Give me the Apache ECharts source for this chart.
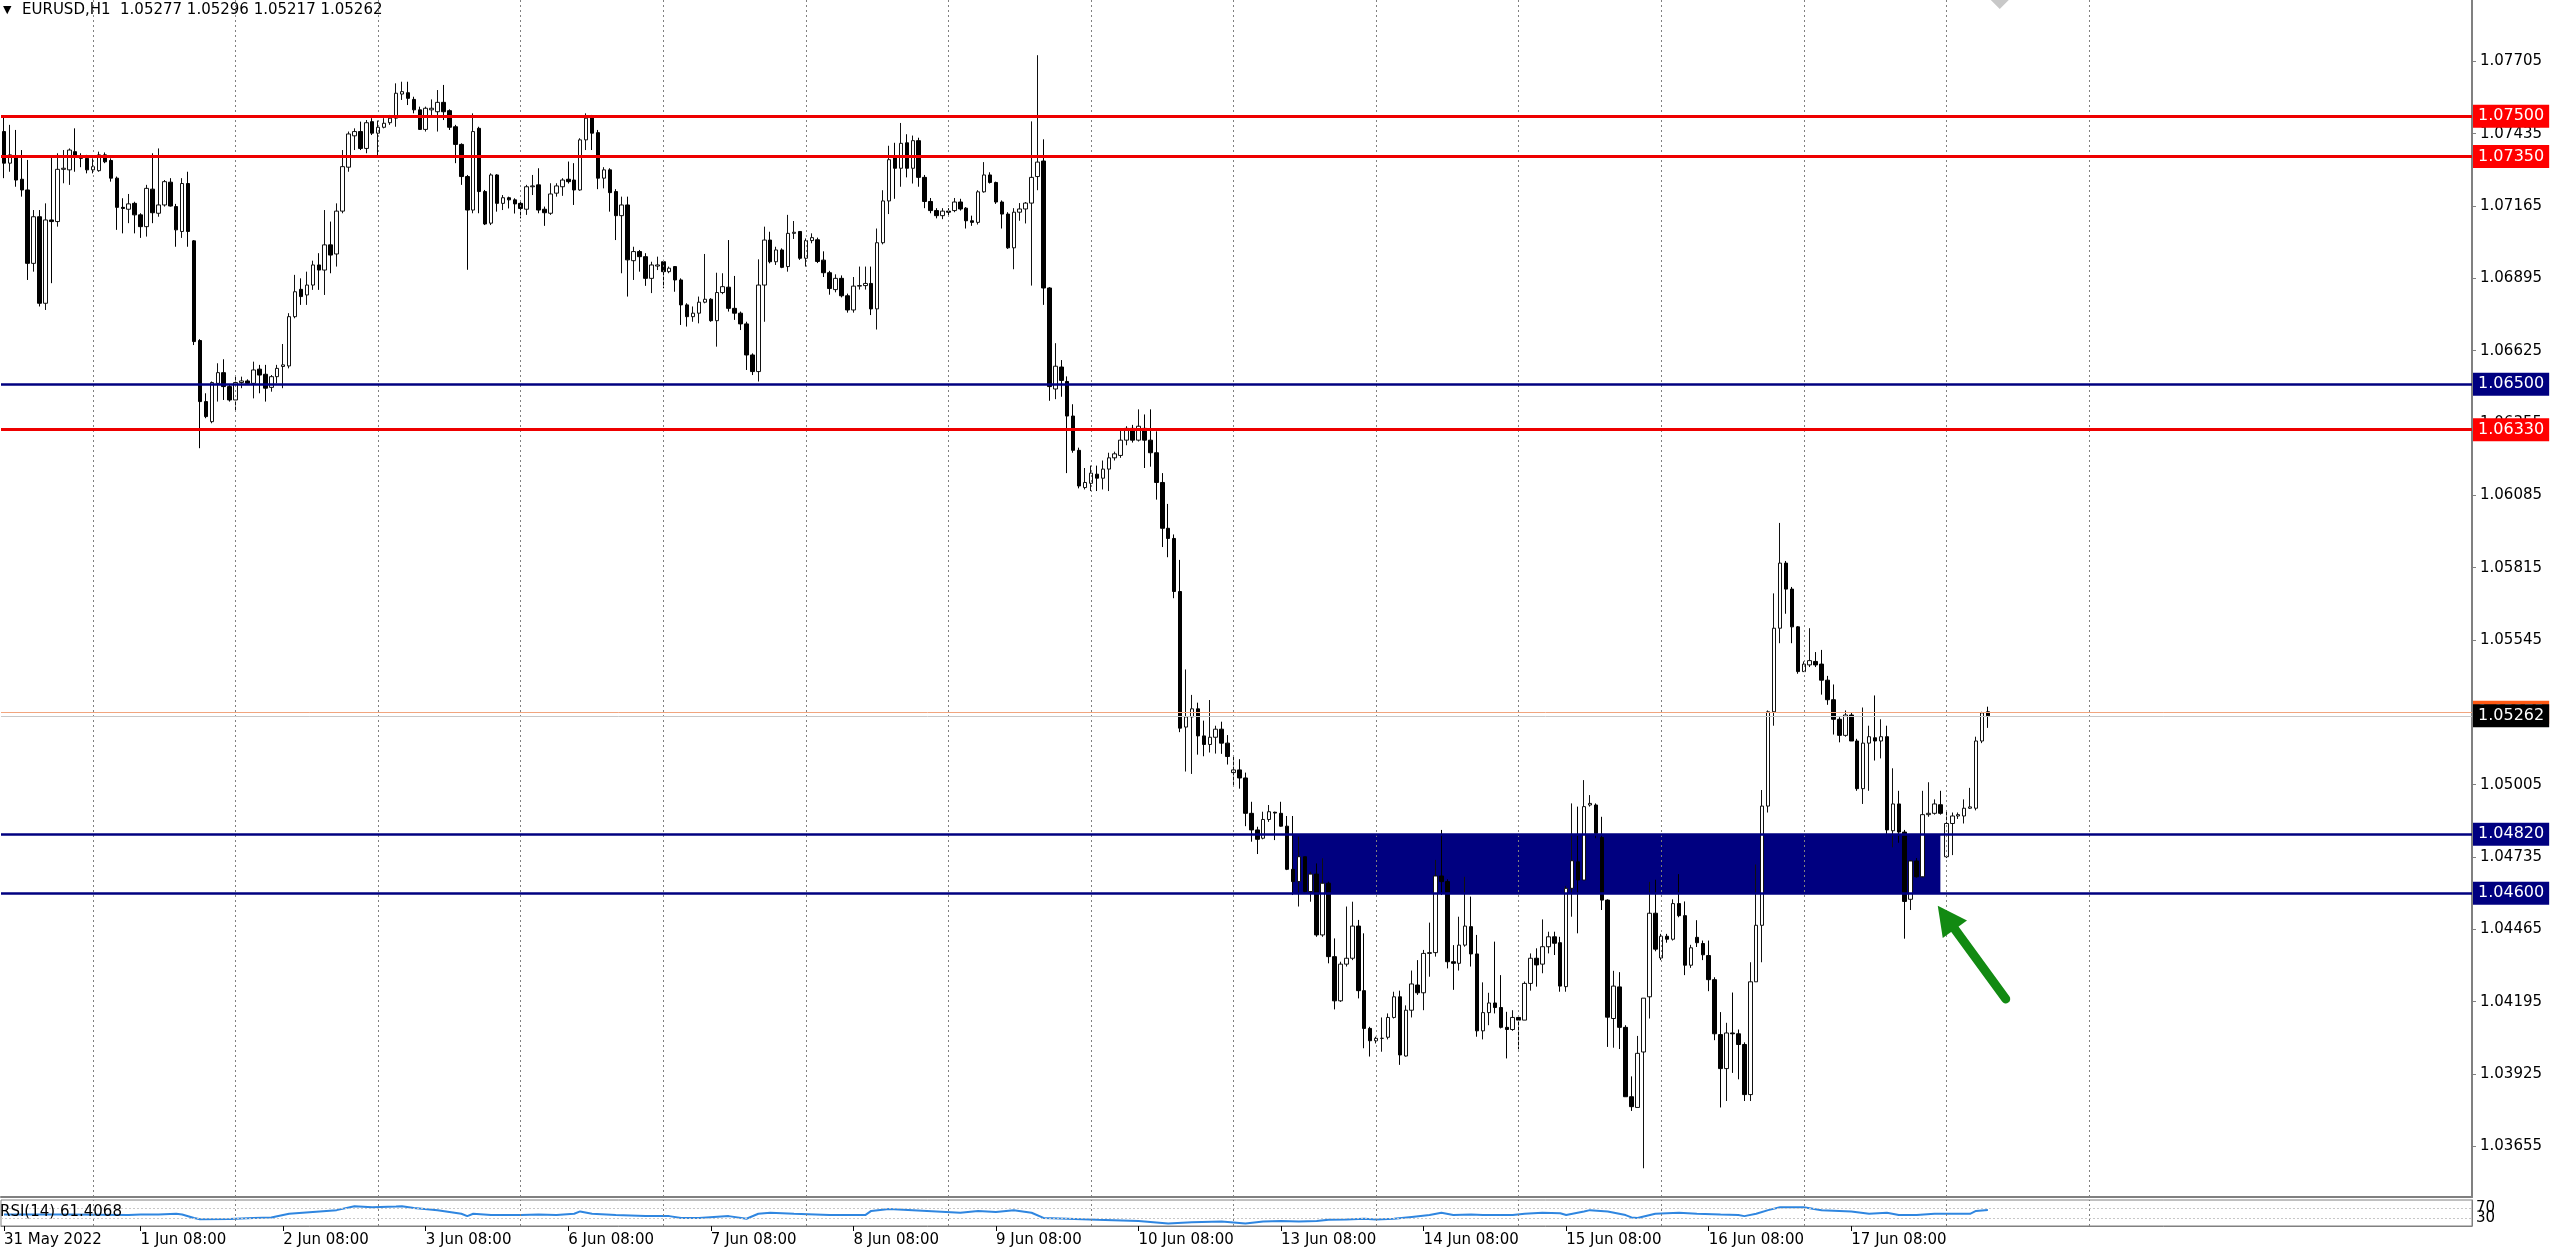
<!DOCTYPE html>
<html><head><meta charset="utf-8">
<script src="https://cdn.jsdelivr.net/npm/echarts@6/dist/echarts.min.js"></script>
<style>html,body{margin:0;padding:0;background:#fff;overflow:hidden}#c{width:2560px;height:1251px}</style>
</head><body><div id="c"></div>
<script>
// ---- EURUSD H1 candles, [open, close, low, high] ----
const may31 = [[1.07443,1.07325,1.07269,1.07499],[1.07325,1.07356,1.07293,1.07468],[1.07349,1.07262,1.07237,1.07449],[1.07265,1.07225,1.07200,1.07374],[1.07225,1.06951,1.06889,1.07337],[1.06951,1.07125,1.06920,1.07150],[1.07125,1.06802,1.06790,1.07150],[1.06802,1.07113,1.06777,1.07175],[1.07113,1.07107,1.06877,1.07349],[1.07107,1.07302,1.07088,1.07362],[1.07302,1.07306,1.07250,1.07374],[1.07300,1.07374,1.07244,1.07380],[1.07368,1.07349,1.07293,1.07455],[1.07350,1.07343,1.07310,1.07362],[1.07343,1.07300,1.07287,1.07356]];
const jun01 = [[1.07300,1.07312,1.07287,1.07343],[1.07297,1.07356,1.07293,1.07368],[1.07356,1.07330,1.07325,1.07365],[1.07335,1.07269,1.07256,1.07343],[1.07269,1.07160,1.07076,1.07275],[1.07160,1.07156,1.07063,1.07194],[1.07153,1.07173,1.07101,1.07210],[1.07175,1.07132,1.07063,1.07181],[1.07132,1.07088,1.07046,1.07138],[1.07088,1.07231,1.07051,1.07244],[1.07228,1.07140,1.07101,1.07362],[1.07138,1.07169,1.07125,1.07380],[1.07169,1.07256,1.07163,1.07262],[1.07254,1.07165,1.07163,1.07269],[1.07163,1.07076,1.07013,1.07173],[1.07070,1.07249,1.07046,1.07269],[1.07249,1.07070,1.07013,1.07293],[1.07035,1.06659,1.06646,1.07038],[1.06663,1.06435,1.06261,1.06668],[1.06435,1.06379,1.06373,1.06466],[1.06360,1.06506,1.06354,1.06510],[1.06503,1.06543,1.06435,1.06578],[1.06543,1.06491,1.06441,1.06593],[1.06491,1.06441,1.06435,1.06497]];
const jun02 = [[1.06441,1.06506,1.06398,1.06528],[1.06506,1.06512,1.06485,1.06528],[1.06512,1.06503,1.06497,1.06518],[1.06503,1.06553,1.06447,1.06584],[1.06556,1.06534,1.06466,1.06572],[1.06537,1.06485,1.06435,1.06572],[1.06488,1.06528,1.06472,1.06534],[1.06528,1.06559,1.06503,1.06572],[1.06566,1.06572,1.06485,1.06650],[1.06568,1.06752,1.06559,1.06765],[1.06752,1.06845,1.06746,1.06908],[1.06854,1.06827,1.06796,1.06895],[1.06833,1.06870,1.06796,1.06920],[1.06870,1.06945,1.06852,1.06961],[1.06945,1.06926,1.06852,1.06989],[1.06926,1.07020,1.06833,1.07150],[1.07020,1.06982,1.06914,1.07107],[1.06986,1.07146,1.06939,1.07175],[1.07146,1.07312,1.07138,1.07374],[1.07310,1.07434,1.07293,1.07443],[1.07427,1.07443,1.07374,1.07455],[1.07443,1.07380,1.07374,1.07480],[1.07380,1.07476,1.07362,1.07486],[1.07480,1.07437,1.07430,1.07493]];
const jun03 = [[1.07437,1.07459,1.07349,1.07484],[1.07459,1.07474,1.07455,1.07493],[1.07476,1.07493,1.07468,1.07505],[1.07493,1.07586,1.07461,1.07623],[1.07583,1.07592,1.07561,1.07629],[1.07588,1.07567,1.07542,1.07629],[1.07563,1.07524,1.07511,1.07573],[1.07524,1.07451,1.07449,1.07536],[1.07451,1.07530,1.07443,1.07536],[1.07524,1.07530,1.07499,1.07563],[1.07517,1.07552,1.07443,1.07598],[1.07552,1.07517,1.07486,1.07617],[1.07521,1.07459,1.07449,1.07526],[1.07461,1.07395,1.07325,1.07468],[1.07395,1.07275,1.07244,1.07399],[1.07275,1.07150,1.06927,1.07281],[1.07150,1.07443,1.07138,1.07511],[1.07455,1.07219,1.07138,1.07461],[1.07219,1.07098,1.07094,1.07225],[1.07101,1.07281,1.07094,1.07287],[1.07281,1.07175,1.07144,1.07284],[1.07175,1.07196,1.07150,1.07206],[1.07196,1.07188,1.07156,1.07200],[1.07188,1.07173,1.07137,1.07194]];
const jun06 = [[1.07175,1.07156,1.07119,1.07181],[1.07153,1.07237,1.07132,1.07244],[1.07237,1.07240,1.07206,1.07281],[1.07244,1.07150,1.07138,1.07306],[1.07153,1.07140,1.07091,1.07163],[1.07138,1.07210,1.07132,1.07250],[1.07213,1.07240,1.07200,1.07250],[1.07237,1.07262,1.07203,1.07269],[1.07265,1.07256,1.07249,1.07331],[1.07262,1.07225,1.07169,1.07325],[1.07225,1.07412,1.07222,1.07418],[1.07412,1.07493,1.07374,1.07511],[1.07495,1.07437,1.07374,1.07505],[1.07439,1.07269,1.07228,1.07449],[1.07269,1.07300,1.07231,1.07310],[1.07300,1.07215,1.07144,1.07306],[1.07219,1.07129,1.07038,1.07228],[1.07129,1.07169,1.06914,1.07200],[1.07169,1.06964,1.06827,1.07200],[1.06961,1.06995,1.06889,1.07013],[1.06995,1.06976,1.06920,1.07001],[1.06976,1.06895,1.06867,1.06989],[1.06895,1.06945,1.06840,1.06957],[1.06941,1.06945,1.06926,1.06976]];
const jun07 = [[1.06957,1.06920,1.06858,1.06964],[1.06920,1.06933,1.06914,1.06939],[1.06939,1.06889,1.06845,1.06941],[1.06889,1.06796,1.06721,1.06895],[1.06796,1.06752,1.06715,1.06802],[1.06752,1.06765,1.06733,1.06790],[1.06765,1.06806,1.06727,1.06827],[1.06806,1.06817,1.06802,1.06986],[1.06817,1.06737,1.06733,1.06821],[1.06737,1.06842,1.06640,1.06916],[1.06842,1.06864,1.06836,1.06914],[1.06862,1.06783,1.06771,1.07038],[1.06783,1.06765,1.06740,1.06904],[1.06765,1.06725,1.06702,1.06771],[1.06725,1.06609,1.06553,1.06733],[1.06609,1.06547,1.06534,1.06615],[1.06547,1.06870,1.06510,1.06966],[1.06870,1.07038,1.06733,1.07088],[1.07038,1.06957,1.06951,1.07069],[1.06957,1.07001,1.06945,1.07013],[1.07001,1.06936,1.06933,1.07007],[1.06939,1.07063,1.06920,1.07132],[1.07063,1.07067,1.07042,1.07109],[1.07070,1.06970,1.06964,1.07070]];
const jun08 = [[1.06970,1.07036,1.06939,1.07044],[1.07036,1.07047,1.07026,1.07063],[1.07039,1.06958,1.06952,1.07047],[1.06963,1.06916,1.06900,1.06996],[1.06916,1.06857,1.06834,1.06923],[1.06853,1.06895,1.06843,1.06910],[1.06895,1.06830,1.06824,1.06906],[1.06830,1.06777,1.06767,1.06838],[1.06777,1.06866,1.06767,1.06900],[1.06866,1.06868,1.06853,1.06939],[1.06868,1.06876,1.06853,1.06939],[1.06876,1.06781,1.06758,1.06939],[1.06781,1.07028,1.06704,1.07081],[1.07028,1.07184,1.07022,1.07224],[1.07184,1.07338,1.07135,1.07390],[1.07348,1.07306,1.07192,1.07401],[1.07306,1.07399,1.07237,1.07475],[1.07401,1.07306,1.07272,1.07433],[1.07306,1.07409,1.07249,1.07428],[1.07409,1.07272,1.07237,1.07420],[1.07272,1.07182,1.07157,1.07281],[1.07182,1.07148,1.07138,1.07195],[1.07148,1.07129,1.07119,1.07157],[1.07129,1.07146,1.07116,1.07157]];
const jun09 = [[1.07146,1.07142,1.07129,1.07157],[1.07148,1.07180,1.07142,1.07195],[1.07180,1.07154,1.07148,1.07192],[1.07157,1.07110,1.07081,1.07161],[1.07110,1.07104,1.07091,1.07129],[1.07104,1.07218,1.07096,1.07224],[1.07218,1.07281,1.07215,1.07329],[1.07281,1.07253,1.07249,1.07291],[1.07253,1.07180,1.07173,1.07256],[1.07180,1.07135,1.07081,1.07186],[1.07135,1.07009,1.07005,1.07142],[1.07009,1.07142,1.06929,1.07157],[1.07142,1.07154,1.07110,1.07176],[1.07154,1.07176,1.07100,1.07180],[1.07176,1.07272,1.06868,1.07481],[1.07275,1.07329,1.07224,1.07728],[1.07333,1.06859,1.06796,1.07414],[1.06859,1.06491,1.06438,1.06862],[1.06482,1.06567,1.06444,1.06653],[1.06564,1.06514,1.06453,1.06590],[1.06510,1.06381,1.06168,1.06529],[1.06381,1.06253,1.06244,1.06425],[1.06253,1.06120,1.06111,1.06263],[1.06114,1.06133,1.06107,1.06187]];
const jun10 = [[1.06130,1.06168,1.06101,1.06196],[1.06164,1.06149,1.06101,1.06196],[1.06149,1.06183,1.06107,1.06215],[1.06183,1.06225,1.06101,1.06244],[1.06225,1.06240,1.06215,1.06248],[1.06234,1.06291,1.06225,1.06329],[1.06291,1.06335,1.06272,1.06343],[1.06335,1.06291,1.06282,1.06348],[1.06291,1.06343,1.06286,1.06406],[1.06335,1.06291,1.06187,1.06387],[1.06291,1.06244,1.06192,1.06406],[1.06244,1.06133,1.06069,1.06324],[1.06133,1.05962,1.05892,1.06168],[1.05962,1.05924,1.05854,1.06053],[1.05924,1.05726,1.05701,1.05939],[1.05726,1.05216,1.05201,1.05844],[1.05220,1.05258,1.05054,1.05435],[1.05258,1.05288,1.05045,1.05340],[1.05288,1.05187,1.05117,1.05311],[1.05187,1.05155,1.05111,1.05244],[1.05155,1.05182,1.05125,1.05321],[1.05182,1.05212,1.05121,1.05225],[1.05212,1.05160,1.05120,1.05240],[1.05160,1.05110,1.05080,1.05190]];
const jun13 = [[1.05050,1.05060,1.05000,1.05110],[1.05060,1.05030,1.04990,1.05100],[1.05030,1.04898,1.04850,1.05050],[1.04898,1.04836,1.04792,1.04941],[1.04836,1.04801,1.04746,1.04848],[1.04805,1.04875,1.04801,1.04904],[1.04875,1.04904,1.04866,1.04929],[1.04902,1.04899,1.04798,1.04904],[1.04898,1.04850,1.04848,1.04941],[1.04850,1.04689,1.04686,1.04888],[1.04689,1.04643,1.04593,1.04888],[1.04643,1.04736,1.04550,1.04811],[1.04736,1.04606,1.04602,1.04736],[1.04606,1.04671,1.04568,1.04680],[1.04671,1.04444,1.04437,1.04711],[1.04444,1.04637,1.04437,1.04730],[1.04637,1.04363,1.04338,1.04643],[1.04363,1.04198,1.04166,1.04431],[1.04198,1.04335,1.04194,1.04344],[1.04335,1.04357,1.04326,1.04550],[1.04357,1.04477,1.04350,1.04568],[1.04477,1.04236,1.04207,1.04500],[1.04236,1.04095,1.04021,1.04450],[1.04095,1.04049,1.03990,1.04101]];
const jun14 = [[1.04049,1.04058,1.04039,1.04064],[1.04058,1.04058,1.04008,1.04136],[1.04062,1.04136,1.04054,1.04151],[1.04136,1.04213,1.04132,1.04232],[1.04213,1.03996,1.03959,1.04236],[1.03992,1.04163,1.03990,1.04181],[1.04163,1.04261,1.04136,1.04311],[1.04257,1.04228,1.04220,1.04350],[1.04228,1.04375,1.04163,1.04388],[1.04375,1.04378,1.04288,1.04490],[1.04378,1.04664,1.04363,1.04724],[1.04664,1.04643,1.04593,1.04836],[1.04643,1.04344,1.04319,1.04652],[1.04344,1.04338,1.04239,1.04406],[1.04338,1.04406,1.04311,1.04512],[1.04406,1.04477,1.04400,1.04661],[1.04475,1.04373,1.04326,1.04587],[1.04373,1.04086,1.04064,1.04444],[1.04086,1.04154,1.04054,1.04267],[1.04154,1.04190,1.04107,1.04228],[1.04190,1.04173,1.04151,1.04419],[1.04173,1.04099,1.04095,1.04294],[1.04099,1.04091,1.03983,1.04157],[1.04091,1.04136,1.04086,1.04163]];
const jun15 = [[1.04136,1.04126,1.04017,1.04136],[1.04126,1.04263,1.04126,1.04270],[1.04263,1.04357,1.04236,1.04375],[1.04357,1.04332,1.04251,1.04394],[1.04335,1.04400,1.04301,1.04502],[1.04400,1.04437,1.04375,1.04456],[1.04437,1.04413,1.04369,1.04456],[1.04415,1.04253,1.04232,1.04437],[1.04251,1.04618,1.04232,1.04627],[1.04618,1.04721,1.04512,1.04935],[1.04717,1.04649,1.04450,1.04923],[1.04649,1.04923,1.04649,1.05022],[1.04929,1.04935,1.04923,1.04966],[1.04929,1.04823,1.04805,1.04935],[1.04808,1.04574,1.04537,1.04885],[1.04574,1.04137,1.04026,1.04577],[1.04132,1.04253,1.04023,1.04310],[1.04250,1.04099,1.04018,1.04305],[1.04099,1.03840,1.03840,1.04107],[1.03840,1.03803,1.03787,1.03916],[1.03800,1.04002,1.03800,1.04067],[1.04007,1.04208,1.03573,1.04208],[1.04213,1.04525,1.04132,1.04642],[1.04525,1.04391,1.04383,1.04650]];
const jun16 = [[1.04358,1.04439,1.04350,1.04448],[1.04439,1.04428,1.04415,1.04448],[1.04428,1.04561,1.04423,1.04577],[1.04561,1.04516,1.04510,1.04671],[1.04516,1.04331,1.04294,1.04569],[1.04331,1.04396,1.04321,1.04407],[1.04435,1.04415,1.04399,1.04499],[1.04412,1.04370,1.04350,1.04423],[1.04367,1.04277,1.04234,1.04423],[1.04277,1.04075,1.04051,1.04286],[1.04072,1.03945,1.03800,1.04156],[1.03945,1.04078,1.03824,1.04116],[1.04078,1.04075,1.03929,1.04229],[1.04075,1.04035,1.03905,1.04091],[1.04035,1.03848,1.03824,1.04043],[1.03848,1.04269,1.03824,1.04342],[1.04269,1.04480,1.04269,1.04707],[1.04480,1.04925,1.04342,1.04985],[1.04925,1.05277,1.04901,1.05282],[1.05277,1.05589,1.05225,1.05719],[1.05589,1.05832,1.05533,1.05982],[1.05832,1.05735,1.05643,1.05840],[1.05735,1.05594,1.05533,1.05743],[1.05594,1.05427,1.05419,1.05597]];
const jun17 = [[1.05427,1.05455,1.05427,1.05465],[1.05452,1.05468,1.05444,1.05589],[1.05465,1.05452,1.05444,1.05500],[1.05455,1.05395,1.05341,1.05508],[1.05395,1.05322,1.05303,1.05411],[1.05322,1.05249,1.05192,1.05379],[1.05249,1.05189,1.05163,1.05257],[1.05189,1.05265,1.05184,1.05282],[1.05265,1.05168,1.05168,1.05273],[1.05168,1.04990,1.04982,1.05176],[1.04990,1.05160,1.04933,1.05293],[1.05160,1.05184,1.04982,1.05225],[1.05180,1.05168,1.05095,1.05338],[1.05168,1.05184,1.05103,1.05249],[1.05184,1.04836,1.04820,1.05225],[1.04833,1.04933,1.04771,1.05066],[1.04933,1.04828,1.04788,1.04982],[1.04828,1.04569,1.04430,1.04836],[1.04577,1.04720,1.04537,1.04723],[1.04720,1.04661,1.04658,1.04731],[1.04661,1.04893,1.04658,1.04982],[1.04893,1.04898,1.04885,1.05014],[1.04898,1.04933,1.04893,1.04950],[1.04930,1.04898,1.04893,1.04982]];
const jun20 = [[1.04736,1.04860,1.04731,1.04909],[1.04860,1.04888,1.04742,1.04901],[1.04888,1.04893,1.04877,1.04901],[1.04888,1.04917,1.04860,1.04950],[1.04917,1.04922,1.04914,1.04993],[1.04917,1.05168,1.04909,1.05184],[1.05168,1.05273,1.05160,1.05277],[1.05277,1.05262,1.05217,1.05296]];

// ---- RSI(14) readings: bar index and value ----
const rsiBars = [0,11,21,23,26,29,30,32,33,38,42,45,48,52,56,59,62,66,67,69,73,77,78,79,82,87,90,93,96,97,99,103,108,112,114,117,122,125,127,129,133,139,145,146,149,153,157,161,164,167,170,173,175,179,184,191,196,200,205,209,212,215,218,221,223,226,229,231,234,237,240,242,244,247,249,254,256,259,262,263,266,267,270,273,274,275,278,282,285,289,292,293,295,297,299,303,306,311,314,317,319,322,325,328,331,332,334];
const rsiValues = [44,44,42,44,44,47,44,31,26,27,31,33,47,54,61,76,72,75,76,69,61,47,38,47,42,42,44,42,47,56,47,42,38,38,31,31,38,28,47,51,47,42,42,58,65,61,56,51,58,54,61,51,31,28,24,19,10,14,17,10,17,19,17,19,24,25,28,25,28,35,42,51,42,44,42,42,47,51,49,42,56,61,56,42,33,31,47,51,47,44,42,38,47,61,72,72,61,56,47,51,42,42,47,47,47,58,61.4];

// ---- axis / annotations ----
const priceTicks = [1.07705,1.07435,1.07165,1.06895,1.06625,1.06355,1.06085,1.05815,1.05545,1.05275,1.05005,1.04735,1.04465,1.04195,1.03925,1.03655];
const rsiTicks = [0,30,70,100];
const rsiLevels = [30,70];
const redLevels = [1.07500,1.07350,1.06330];
const navyLevels = [1.06500,1.04820,1.04600];
const zonePrices = [1.04820,1.04600];
const zoneBars = [217,326];
const askPrice = 1.05275;
const bidPrice = 1.05262;
const arrowFrom = [337.2,1.04205];
const arrowTo = [326.6,1.04509];
const shiftMarkBar = 336;
const headerText = 'EURUSD,H1  1.05277 1.05296 1.05217 1.05262';
const rsiTitle = 'RSI(14) 61.4068';
const priceMin = 1.034657, priceMax = 1.079341;

// ---- build ----
const candles = [].concat(may31,jun01,jun02,jun03,jun06,jun07,jun08,jun09,jun10,jun13,jun14,jun15,jun16,jun17,jun20);
const SLOTS = 416;
const MONTHS = ['Jan','Feb','Mar','Apr','May','Jun','Jul','Aug','Sep','Oct','Nov','Dec'];
const cats = [];
let t = Date.UTC(2022,4,31,9);
while (cats.length < SLOTS) {
  const wd = new Date(t).getUTCDay();
  if (wd !== 0 && wd !== 6) cats.push(String(t));
  t += 3600000;
}
const hourOf = v => new Date(+v).getUTCHours();
const showLabel = (i, v) => i === 0 || (hourOf(v) === 8 && i < candles.length);
const sepIdx = [];
cats.forEach((v, i) => { if (hourOf(v) === 0 && i < candles.length + 24) sepIdx.push(i); });
function fmtX(v, i) {
  const d = new Date(+v);
  if (i === 0) return d.getUTCDate() + ' ' + MONTHS[d.getUTCMonth()] + ' ' + d.getUTCFullYear();
  const h = d.getUTCHours();
  return d.getUTCDate() + ' ' + MONTHS[d.getUTCMonth()] + ' ' + (h < 10 ? '0' : '') + h + ':00';
}
const FONT = 'DejaVu Sans';
const GRAY = '#808080';
const sepLine = i => ({ xAxis: cats[i], lineStyle: { color: GRAY, type: [2, 3], width: 1 } });
const boxLabel = (p, bg) => ({ show: true, position: 'end', distance: 1, formatter: p.toFixed(5), color: '#fff', backgroundColor: bg, padding: [4, 5, 3, 5], fontSize: 16, fontFamily: FONT });

const levelLines = [];
redLevels.forEach(p => levelLines.push({ yAxis: p, lineStyle: { color: '#ee0000', width: 3, type: 'solid' }, label: boxLabel(p, '#ff0000') }));
navyLevels.forEach(p => levelLines.push({ yAxis: p, lineStyle: { color: '#000080', width: 2.5, type: 'solid' }, label: boxLabel(p, '#000080') }));
levelLines.push({ yAxis: askPrice, lineStyle: { color: '#f2a57e', width: 1, type: 'solid' }, label: boxLabel(askPrice, '#ff5a14') });
levelLines.push({ yAxis: bidPrice, lineStyle: { color: '#c8c8c8', width: 1, type: 'solid' }, label: boxLabel(bidPrice, '#000000') });

const chart = echarts.init(document.getElementById('c'), null, { renderer: 'canvas' });
chart.setOption({
  animation: false,
  backgroundColor: '#ffffff',
  textStyle: { fontFamily: FONT },
  grid: [
    { left: 1, top: 0, width: 2471, height: 1197, show: false },
    { left: 1, top: 1200, width: 2471, height: 26, show: true, borderColor: GRAY, borderWidth: 1, backgroundColor: 'transparent' }
  ],
  xAxis: [
    { type: 'category', gridIndex: 0, data: cats, boundaryGap: true,
      axisLine: { show: true, lineStyle: { color: GRAY, width: 2 } }, axisTick: { show: false }, axisLabel: { show: false }, splitLine: { show: false } },
    { type: 'category', gridIndex: 1, data: cats, boundaryGap: true,
      axisLine: { show: true, lineStyle: { color: GRAY, width: 1 } },
      axisTick: { show: true, interval: showLabel, alignWithLabel: true, length: 5, lineStyle: { color: '#000' } },
      axisLabel: { show: true, interval: showLabel, formatter: fmtX, align: 'left', margin: 7, fontSize: 15, color: '#000', fontFamily: FONT },
      splitLine: { show: false } }
  ],
  yAxis: [
    { type: 'value', gridIndex: 0, position: 'right', min: priceMin, max: priceMax, scale: true,
      axisLine: { show: true, lineStyle: { color: GRAY, width: 2 } },
      axisTick: { show: true, customValues: priceTicks, length: 4, lineStyle: { color: GRAY } },
      axisLabel: { show: true, customValues: priceTicks, formatter: v => v.toFixed(5), fontSize: 15, color: '#000', margin: 8, fontFamily: FONT },
      splitLine: { show: false } },
    { type: 'value', gridIndex: 1, position: 'right', min: 0, max: 100,
      axisLine: { show: true, lineStyle: { color: GRAY, width: 1 } },
      axisTick: { show: false },
      axisLabel: { show: true, customValues: rsiTicks, fontSize: 15, color: '#000', margin: 4, fontFamily: FONT, hideOverlap: false },
      splitLine: { show: false } }
  ],
  graphic: [
    { type: 'text', left: 3, top: 5, style: { text: '\u25BC', fontSize: 11, fill: '#000', fontFamily: FONT } },
    { type: 'text', left: 22, top: 3, style: { text: headerText, fontSize: 15, fill: '#000', fontFamily: FONT } },
    { type: 'text', left: 0, top: 1205, z: 100, style: { text: rsiTitle, fontSize: 15, fill: '#000', fontFamily: FONT } }
  ],
  series: [
    { name: 'bg', type: 'line', xAxisIndex: 0, yAxisIndex: 0, data: [], z: 1, silent: true,
      markLine: { silent: true, precision: 6, symbol: ['none', 'none'], label: { show: false }, animation: false, data: sepIdx.map(sepLine) },
      markArea: { silent: true, itemStyle: { color: '#000080', opacity: 1 }, label: { show: false },
        data: [[{ xAxis: cats[zoneBars[0]], yAxis: zonePrices[0] }, { xAxis: cats[zoneBars[1]], yAxis: zonePrices[1] }]] } },
    { name: 'EURUSD', type: 'candlestick', xAxisIndex: 0, yAxisIndex: 0, data: candles, barWidth: 4, z: 3,
      itemStyle: { color: '#ffffff', color0: '#000000', borderColor: '#111111', borderColor0: '#000000', borderWidth: 1 } },
    { name: 'levels', type: 'line', xAxisIndex: 0, yAxisIndex: 0, data: [], z: 4, silent: true,
      markLine: { silent: true, precision: 6, symbol: ['none', 'none'], animation: false, data: levelLines },
      markPoint: { silent: true, animation: false, label: { show: false },
        data: [{ coord: [cats[shiftMarkBar], priceMax], symbol: 'triangle', symbolRotate: 180, symbolSize: [20, 10], symbolOffset: [0, 4], itemStyle: { color: '#c8c8c8' } }] } },
    { name: 'arrow', type: 'line', xAxisIndex: 0, yAxisIndex: 0, data: [], z: 6, silent: true,
      markLine: { silent: true, precision: 6, animation: false, label: { show: false },
        data: [[
          { coord: arrowFrom, symbol: 'none', lineStyle: { color: '#128a12', width: 9, type: 'solid', cap: 'round' } },
          { coord: arrowTo, symbol: 'triangle', symbolSize: [30, 29] }
        ]] } },
    { name: 'RSI(14)', type: 'line', xAxisIndex: 1, yAxisIndex: 1, z: 3, showSymbol: false, silent: true,
      data: rsiBars.map((b, i) => [b, rsiValues[i]]),
      lineStyle: { color: '#2f86e0', width: 2 },
      markLine: { silent: true, symbol: ['none', 'none'], label: { show: false }, animation: false,
        data: rsiLevels.map(v => ({ yAxis: v, lineStyle: { color: '#c8c8c8', type: [2, 2], width: 1 } }))
          .concat(sepIdx.map(sepLine)) } }
  ]
});
</script>
</body></html>
